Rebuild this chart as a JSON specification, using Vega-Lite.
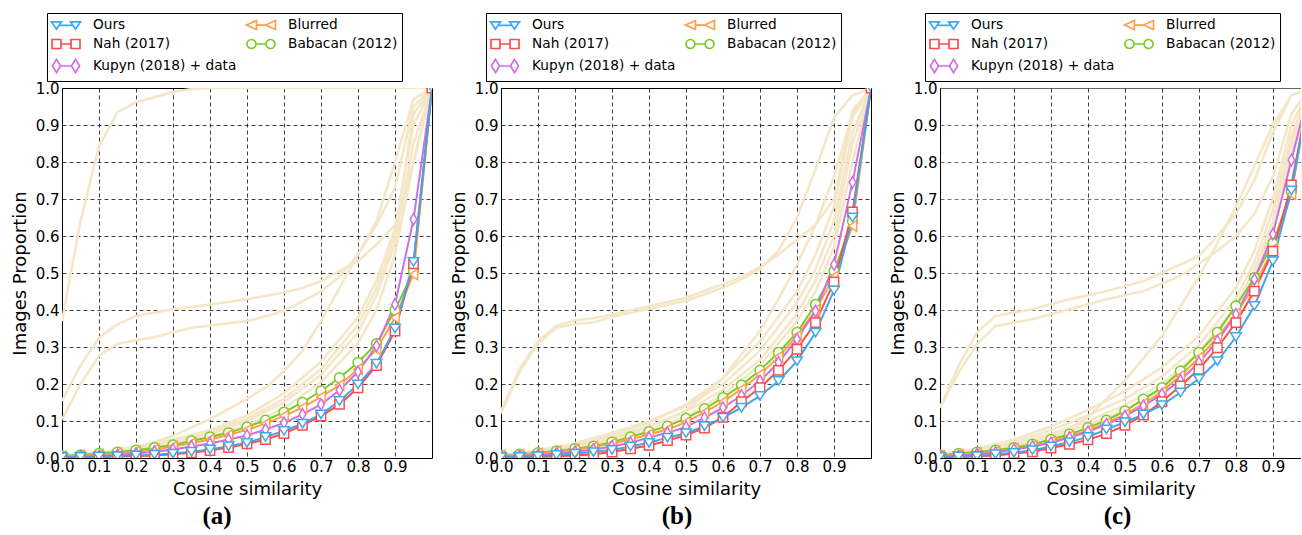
{
"$schema": "https://vega.github.io/schema/vega-lite/v6.json",
"padding": {"left": 10, "top": 12, "right": 0, "bottom": 0},
"spacing": 69,
"bounds": "flush",
"config": {
  "font": "DejaVu Sans",
  "view": {"stroke": "black", "strokeWidth": 1},
  "axis": {"labelFont": "DejaVu Sans", "labelFontSize": 15, "labelColor": "black", "titleFont": "DejaVu Sans", "titleFontSize": 18, "titleFontWeight": "normal", "titleColor": "black", "grid": true, "gridColor": "black", "gridDash": [4, 3], "gridOpacity": 0.75, "gridWidth": 1, "ticks": false, "domain": false, "labelFlush": false, "labelOverlap": false},
  "legend": {"orient": "none", "legendX": -15, "legendY": -75, "columns": 2, "strokeColor": "black", "fillColor": "white", "padding": 4, "cornerRadius": 0, "labelFont": "DejaVu Sans", "labelFontSize": 13.7, "labelColor": "black", "labelLimit": 300, "symbolSize": 196, "symbolStrokeWidth": 1.7, "symbolOpacity": 1, "symbolOffset": 7, "rowPadding": 3, "columnPadding": 6, "labelOffset": 19},
  "title": {"font": "Liberation Serif", "fontSize": 25, "fontWeight": "bold", "color": "black", "orient": "bottom", "anchor": "middle", "frame": "group", "offset": 6}
},
"resolve": {"scale": {"color": "independent", "shape": "independent", "stroke": "independent"}, "legend": {"color": "independent", "shape": "independent", "stroke": "independent"}},
"datasets": {
"main": [
{"p":"a","m":"Babacan (2012)","x":0,"y":0.006},{"p":"a","m":"Babacan (2012)","x":0.05,"y":0.008},{"p":"a","m":"Babacan (2012)","x":0.1,"y":0.012},{"p":"a","m":"Babacan (2012)","x":0.15,"y":0.016},{"p":"a","m":"Babacan (2012)","x":0.2,"y":0.021},{"p":"a","m":"Babacan (2012)","x":0.25,"y":0.028},{"p":"a","m":"Babacan (2012)","x":0.3,"y":0.035},{"p":"a","m":"Babacan (2012)","x":0.35,"y":0.046},{"p":"a","m":"Babacan (2012)","x":0.4,"y":0.057},{"p":"a","m":"Babacan (2012)","x":0.45,"y":0.068},{"p":"a","m":"Babacan (2012)","x":0.5,"y":0.084},{"p":"a","m":"Babacan (2012)","x":0.55,"y":0.102},{"p":"a","m":"Babacan (2012)","x":0.6,"y":0.124},{"p":"a","m":"Babacan (2012)","x":0.65,"y":0.15},{"p":"a","m":"Babacan (2012)","x":0.7,"y":0.181},{"p":"a","m":"Babacan (2012)","x":0.75,"y":0.217},{"p":"a","m":"Babacan (2012)","x":0.8,"y":0.258},{"p":"a","m":"Babacan (2012)","x":0.85,"y":0.309},{"p":"a","m":"Babacan (2012)","x":0.9,"y":0.4},{"p":"a","m":"Babacan (2012)","x":0.95,"y":0.505},{"p":"a","m":"Babacan (2012)","x":1,"y":1},
{"p":"a","m":"Blurred","x":0,"y":0.004},{"p":"a","m":"Blurred","x":0.05,"y":0.006},{"p":"a","m":"Blurred","x":0.1,"y":0.009},{"p":"a","m":"Blurred","x":0.15,"y":0.013},{"p":"a","m":"Blurred","x":0.2,"y":0.017},{"p":"a","m":"Blurred","x":0.25,"y":0.023},{"p":"a","m":"Blurred","x":0.3,"y":0.031},{"p":"a","m":"Blurred","x":0.35,"y":0.04},{"p":"a","m":"Blurred","x":0.4,"y":0.05},{"p":"a","m":"Blurred","x":0.45,"y":0.062},{"p":"a","m":"Blurred","x":0.5,"y":0.076},{"p":"a","m":"Blurred","x":0.55,"y":0.093},{"p":"a","m":"Blurred","x":0.6,"y":0.114},{"p":"a","m":"Blurred","x":0.65,"y":0.136},{"p":"a","m":"Blurred","x":0.7,"y":0.165},{"p":"a","m":"Blurred","x":0.75,"y":0.197},{"p":"a","m":"Blurred","x":0.8,"y":0.24},{"p":"a","m":"Blurred","x":0.85,"y":0.294},{"p":"a","m":"Blurred","x":0.9,"y":0.379},{"p":"a","m":"Blurred","x":0.95,"y":0.496},{"p":"a","m":"Blurred","x":1,"y":1},
{"p":"a","m":"Kupyn (2018) + data","x":0,"y":0.003},{"p":"a","m":"Kupyn (2018) + data","x":0.05,"y":0.004},{"p":"a","m":"Kupyn (2018) + data","x":0.1,"y":0.005},{"p":"a","m":"Kupyn (2018) + data","x":0.15,"y":0.008},{"p":"a","m":"Kupyn (2018) + data","x":0.2,"y":0.012},{"p":"a","m":"Kupyn (2018) + data","x":0.25,"y":0.017},{"p":"a","m":"Kupyn (2018) + data","x":0.3,"y":0.023},{"p":"a","m":"Kupyn (2018) + data","x":0.35,"y":0.031},{"p":"a","m":"Kupyn (2018) + data","x":0.4,"y":0.039},{"p":"a","m":"Kupyn (2018) + data","x":0.45,"y":0.05},{"p":"a","m":"Kupyn (2018) + data","x":0.5,"y":0.061},{"p":"a","m":"Kupyn (2018) + data","x":0.55,"y":0.077},{"p":"a","m":"Kupyn (2018) + data","x":0.6,"y":0.095},{"p":"a","m":"Kupyn (2018) + data","x":0.65,"y":0.118},{"p":"a","m":"Kupyn (2018) + data","x":0.7,"y":0.145},{"p":"a","m":"Kupyn (2018) + data","x":0.75,"y":0.183},{"p":"a","m":"Kupyn (2018) + data","x":0.8,"y":0.233},{"p":"a","m":"Kupyn (2018) + data","x":0.85,"y":0.303},{"p":"a","m":"Kupyn (2018) + data","x":0.9,"y":0.415},{"p":"a","m":"Kupyn (2018) + data","x":0.95,"y":0.645},{"p":"a","m":"Kupyn (2018) + data","x":1,"y":1},
{"p":"a","m":"Nah (2017)","x":0,"y":0.001},{"p":"a","m":"Nah (2017)","x":0.05,"y":0.002},{"p":"a","m":"Nah (2017)","x":0.1,"y":0.003},{"p":"a","m":"Nah (2017)","x":0.15,"y":0.004},{"p":"a","m":"Nah (2017)","x":0.2,"y":0.005},{"p":"a","m":"Nah (2017)","x":0.25,"y":0.007},{"p":"a","m":"Nah (2017)","x":0.3,"y":0.01},{"p":"a","m":"Nah (2017)","x":0.35,"y":0.014},{"p":"a","m":"Nah (2017)","x":0.4,"y":0.02},{"p":"a","m":"Nah (2017)","x":0.45,"y":0.028},{"p":"a","m":"Nah (2017)","x":0.5,"y":0.038},{"p":"a","m":"Nah (2017)","x":0.55,"y":0.05},{"p":"a","m":"Nah (2017)","x":0.6,"y":0.066},{"p":"a","m":"Nah (2017)","x":0.65,"y":0.088},{"p":"a","m":"Nah (2017)","x":0.7,"y":0.113},{"p":"a","m":"Nah (2017)","x":0.75,"y":0.145},{"p":"a","m":"Nah (2017)","x":0.8,"y":0.19},{"p":"a","m":"Nah (2017)","x":0.85,"y":0.25},{"p":"a","m":"Nah (2017)","x":0.9,"y":0.343},{"p":"a","m":"Nah (2017)","x":0.95,"y":0.525},{"p":"a","m":"Nah (2017)","x":1,"y":1},
{"p":"a","m":"Ours","x":0,"y":0.002},{"p":"a","m":"Ours","x":0.05,"y":0.003},{"p":"a","m":"Ours","x":0.1,"y":0.004},{"p":"a","m":"Ours","x":0.15,"y":0.005},{"p":"a","m":"Ours","x":0.2,"y":0.007},{"p":"a","m":"Ours","x":0.25,"y":0.009},{"p":"a","m":"Ours","x":0.3,"y":0.012},{"p":"a","m":"Ours","x":0.35,"y":0.017},{"p":"a","m":"Ours","x":0.4,"y":0.023},{"p":"a","m":"Ours","x":0.45,"y":0.032},{"p":"a","m":"Ours","x":0.5,"y":0.041},{"p":"a","m":"Ours","x":0.55,"y":0.057},{"p":"a","m":"Ours","x":0.6,"y":0.073},{"p":"a","m":"Ours","x":0.65,"y":0.093},{"p":"a","m":"Ours","x":0.7,"y":0.118},{"p":"a","m":"Ours","x":0.75,"y":0.154},{"p":"a","m":"Ours","x":0.8,"y":0.199},{"p":"a","m":"Ours","x":0.85,"y":0.255},{"p":"a","m":"Ours","x":0.9,"y":0.35},{"p":"a","m":"Ours","x":0.95,"y":0.53},{"p":"a","m":"Ours","x":1,"y":1},
{"p":"b","m":"Babacan (2012)","x":0,"y":0.007},{"p":"b","m":"Babacan (2012)","x":0.05,"y":0.01},{"p":"b","m":"Babacan (2012)","x":0.1,"y":0.014},{"p":"b","m":"Babacan (2012)","x":0.15,"y":0.019},{"p":"b","m":"Babacan (2012)","x":0.2,"y":0.025},{"p":"b","m":"Babacan (2012)","x":0.25,"y":0.032},{"p":"b","m":"Babacan (2012)","x":0.3,"y":0.043},{"p":"b","m":"Babacan (2012)","x":0.35,"y":0.057},{"p":"b","m":"Babacan (2012)","x":0.4,"y":0.071},{"p":"b","m":"Babacan (2012)","x":0.45,"y":0.086},{"p":"b","m":"Babacan (2012)","x":0.5,"y":0.107},{"p":"b","m":"Babacan (2012)","x":0.55,"y":0.133},{"p":"b","m":"Babacan (2012)","x":0.6,"y":0.163},{"p":"b","m":"Babacan (2012)","x":0.65,"y":0.197},{"p":"b","m":"Babacan (2012)","x":0.7,"y":0.237},{"p":"b","m":"Babacan (2012)","x":0.75,"y":0.285},{"p":"b","m":"Babacan (2012)","x":0.8,"y":0.339},{"p":"b","m":"Babacan (2012)","x":0.85,"y":0.415},{"p":"b","m":"Babacan (2012)","x":0.9,"y":0.505},{"p":"b","m":"Babacan (2012)","x":0.95,"y":0.64},{"p":"b","m":"Babacan (2012)","x":1,"y":1},
{"p":"b","m":"Blurred","x":0,"y":0.006},{"p":"b","m":"Blurred","x":0.05,"y":0.009},{"p":"b","m":"Blurred","x":0.1,"y":0.012},{"p":"b","m":"Blurred","x":0.15,"y":0.017},{"p":"b","m":"Blurred","x":0.2,"y":0.022},{"p":"b","m":"Blurred","x":0.25,"y":0.03},{"p":"b","m":"Blurred","x":0.3,"y":0.039},{"p":"b","m":"Blurred","x":0.35,"y":0.05},{"p":"b","m":"Blurred","x":0.4,"y":0.064},{"p":"b","m":"Blurred","x":0.45,"y":0.077},{"p":"b","m":"Blurred","x":0.5,"y":0.097},{"p":"b","m":"Blurred","x":0.55,"y":0.123},{"p":"b","m":"Blurred","x":0.6,"y":0.152},{"p":"b","m":"Blurred","x":0.65,"y":0.186},{"p":"b","m":"Blurred","x":0.7,"y":0.226},{"p":"b","m":"Blurred","x":0.75,"y":0.273},{"p":"b","m":"Blurred","x":0.8,"y":0.33},{"p":"b","m":"Blurred","x":0.85,"y":0.4},{"p":"b","m":"Blurred","x":0.9,"y":0.49},{"p":"b","m":"Blurred","x":0.95,"y":0.627},{"p":"b","m":"Blurred","x":1,"y":1},
{"p":"b","m":"Kupyn (2018) + data","x":0,"y":0.003},{"p":"b","m":"Kupyn (2018) + data","x":0.05,"y":0.005},{"p":"b","m":"Kupyn (2018) + data","x":0.1,"y":0.008},{"p":"b","m":"Kupyn (2018) + data","x":0.15,"y":0.012},{"p":"b","m":"Kupyn (2018) + data","x":0.2,"y":0.017},{"p":"b","m":"Kupyn (2018) + data","x":0.25,"y":0.023},{"p":"b","m":"Kupyn (2018) + data","x":0.3,"y":0.031},{"p":"b","m":"Kupyn (2018) + data","x":0.35,"y":0.041},{"p":"b","m":"Kupyn (2018) + data","x":0.4,"y":0.055},{"p":"b","m":"Kupyn (2018) + data","x":0.45,"y":0.068},{"p":"b","m":"Kupyn (2018) + data","x":0.5,"y":0.084},{"p":"b","m":"Kupyn (2018) + data","x":0.55,"y":0.109},{"p":"b","m":"Kupyn (2018) + data","x":0.6,"y":0.136},{"p":"b","m":"Kupyn (2018) + data","x":0.65,"y":0.169},{"p":"b","m":"Kupyn (2018) + data","x":0.7,"y":0.208},{"p":"b","m":"Kupyn (2018) + data","x":0.75,"y":0.258},{"p":"b","m":"Kupyn (2018) + data","x":0.8,"y":0.321},{"p":"b","m":"Kupyn (2018) + data","x":0.85,"y":0.397},{"p":"b","m":"Kupyn (2018) + data","x":0.9,"y":0.523},{"p":"b","m":"Kupyn (2018) + data","x":0.95,"y":0.745},{"p":"b","m":"Kupyn (2018) + data","x":1,"y":1},
{"p":"b","m":"Nah (2017)","x":0,"y":0.001},{"p":"b","m":"Nah (2017)","x":0.05,"y":0.002},{"p":"b","m":"Nah (2017)","x":0.1,"y":0.003},{"p":"b","m":"Nah (2017)","x":0.15,"y":0.005},{"p":"b","m":"Nah (2017)","x":0.2,"y":0.007},{"p":"b","m":"Nah (2017)","x":0.25,"y":0.01},{"p":"b","m":"Nah (2017)","x":0.3,"y":0.016},{"p":"b","m":"Nah (2017)","x":0.35,"y":0.025},{"p":"b","m":"Nah (2017)","x":0.4,"y":0.034},{"p":"b","m":"Nah (2017)","x":0.45,"y":0.047},{"p":"b","m":"Nah (2017)","x":0.5,"y":0.062},{"p":"b","m":"Nah (2017)","x":0.55,"y":0.081},{"p":"b","m":"Nah (2017)","x":0.6,"y":0.11},{"p":"b","m":"Nah (2017)","x":0.65,"y":0.152},{"p":"b","m":"Nah (2017)","x":0.7,"y":0.19},{"p":"b","m":"Nah (2017)","x":0.75,"y":0.237},{"p":"b","m":"Nah (2017)","x":0.8,"y":0.294},{"p":"b","m":"Nah (2017)","x":0.85,"y":0.366},{"p":"b","m":"Nah (2017)","x":0.9,"y":0.476},{"p":"b","m":"Nah (2017)","x":0.95,"y":0.665},{"p":"b","m":"Nah (2017)","x":1,"y":1},
{"p":"b","m":"Ours","x":0,"y":0.002},{"p":"b","m":"Ours","x":0.05,"y":0.003},{"p":"b","m":"Ours","x":0.1,"y":0.005},{"p":"b","m":"Ours","x":0.15,"y":0.008},{"p":"b","m":"Ours","x":0.2,"y":0.012},{"p":"b","m":"Ours","x":0.25,"y":0.016},{"p":"b","m":"Ours","x":0.3,"y":0.022},{"p":"b","m":"Ours","x":0.35,"y":0.031},{"p":"b","m":"Ours","x":0.4,"y":0.041},{"p":"b","m":"Ours","x":0.45,"y":0.055},{"p":"b","m":"Ours","x":0.5,"y":0.067},{"p":"b","m":"Ours","x":0.55,"y":0.086},{"p":"b","m":"Ours","x":0.6,"y":0.109},{"p":"b","m":"Ours","x":0.65,"y":0.136},{"p":"b","m":"Ours","x":0.7,"y":0.168},{"p":"b","m":"Ours","x":0.75,"y":0.208},{"p":"b","m":"Ours","x":0.8,"y":0.262},{"p":"b","m":"Ours","x":0.85,"y":0.339},{"p":"b","m":"Ours","x":0.9,"y":0.453},{"p":"b","m":"Ours","x":0.95,"y":0.65},{"p":"b","m":"Ours","x":1,"y":1},
{"p":"c","m":"Babacan (2012)","x":0,"y":0.008},{"p":"c","m":"Babacan (2012)","x":0.05,"y":0.012},{"p":"c","m":"Babacan (2012)","x":0.1,"y":0.016},{"p":"c","m":"Babacan (2012)","x":0.15,"y":0.021},{"p":"c","m":"Babacan (2012)","x":0.2,"y":0.028},{"p":"c","m":"Babacan (2012)","x":0.25,"y":0.037},{"p":"c","m":"Babacan (2012)","x":0.3,"y":0.05},{"p":"c","m":"Babacan (2012)","x":0.35,"y":0.064},{"p":"c","m":"Babacan (2012)","x":0.4,"y":0.082},{"p":"c","m":"Babacan (2012)","x":0.45,"y":0.102},{"p":"c","m":"Babacan (2012)","x":0.5,"y":0.127},{"p":"c","m":"Babacan (2012)","x":0.55,"y":0.159},{"p":"c","m":"Babacan (2012)","x":0.6,"y":0.19},{"p":"c","m":"Babacan (2012)","x":0.65,"y":0.235},{"p":"c","m":"Babacan (2012)","x":0.7,"y":0.285},{"p":"c","m":"Babacan (2012)","x":0.75,"y":0.339},{"p":"c","m":"Babacan (2012)","x":0.8,"y":0.411},{"p":"c","m":"Babacan (2012)","x":0.85,"y":0.487},{"p":"c","m":"Babacan (2012)","x":0.9,"y":0.58},{"p":"c","m":"Babacan (2012)","x":0.95,"y":0.72},{"p":"c","m":"Babacan (2012)","x":1,"y":1},
{"p":"c","m":"Blurred","x":0,"y":0.006},{"p":"c","m":"Blurred","x":0.05,"y":0.009},{"p":"c","m":"Blurred","x":0.1,"y":0.013},{"p":"c","m":"Blurred","x":0.15,"y":0.018},{"p":"c","m":"Blurred","x":0.2,"y":0.024},{"p":"c","m":"Blurred","x":0.25,"y":0.032},{"p":"c","m":"Blurred","x":0.3,"y":0.044},{"p":"c","m":"Blurred","x":0.35,"y":0.059},{"p":"c","m":"Blurred","x":0.4,"y":0.075},{"p":"c","m":"Blurred","x":0.45,"y":0.095},{"p":"c","m":"Blurred","x":0.5,"y":0.118},{"p":"c","m":"Blurred","x":0.55,"y":0.147},{"p":"c","m":"Blurred","x":0.6,"y":0.179},{"p":"c","m":"Blurred","x":0.65,"y":0.222},{"p":"c","m":"Blurred","x":0.7,"y":0.271},{"p":"c","m":"Blurred","x":0.75,"y":0.325},{"p":"c","m":"Blurred","x":0.8,"y":0.39},{"p":"c","m":"Blurred","x":0.85,"y":0.465},{"p":"c","m":"Blurred","x":0.9,"y":0.565},{"p":"c","m":"Blurred","x":0.95,"y":0.713},{"p":"c","m":"Blurred","x":1,"y":1},
{"p":"c","m":"Kupyn (2018) + data","x":0,"y":0.004},{"p":"c","m":"Kupyn (2018) + data","x":0.05,"y":0.006},{"p":"c","m":"Kupyn (2018) + data","x":0.1,"y":0.01},{"p":"c","m":"Kupyn (2018) + data","x":0.15,"y":0.015},{"p":"c","m":"Kupyn (2018) + data","x":0.2,"y":0.023},{"p":"c","m":"Kupyn (2018) + data","x":0.25,"y":0.031},{"p":"c","m":"Kupyn (2018) + data","x":0.3,"y":0.041},{"p":"c","m":"Kupyn (2018) + data","x":0.35,"y":0.055},{"p":"c","m":"Kupyn (2018) + data","x":0.4,"y":0.071},{"p":"c","m":"Kupyn (2018) + data","x":0.45,"y":0.091},{"p":"c","m":"Kupyn (2018) + data","x":0.5,"y":0.113},{"p":"c","m":"Kupyn (2018) + data","x":0.55,"y":0.141},{"p":"c","m":"Kupyn (2018) + data","x":0.6,"y":0.172},{"p":"c","m":"Kupyn (2018) + data","x":0.65,"y":0.21},{"p":"c","m":"Kupyn (2018) + data","x":0.7,"y":0.258},{"p":"c","m":"Kupyn (2018) + data","x":0.75,"y":0.316},{"p":"c","m":"Kupyn (2018) + data","x":0.8,"y":0.388},{"p":"c","m":"Kupyn (2018) + data","x":0.85,"y":0.483},{"p":"c","m":"Kupyn (2018) + data","x":0.9,"y":0.605},{"p":"c","m":"Kupyn (2018) + data","x":0.95,"y":0.805},{"p":"c","m":"Kupyn (2018) + data","x":1,"y":1},
{"p":"c","m":"Nah (2017)","x":0,"y":0.002},{"p":"c","m":"Nah (2017)","x":0.05,"y":0.003},{"p":"c","m":"Nah (2017)","x":0.1,"y":0.005},{"p":"c","m":"Nah (2017)","x":0.15,"y":0.007},{"p":"c","m":"Nah (2017)","x":0.2,"y":0.012},{"p":"c","m":"Nah (2017)","x":0.25,"y":0.017},{"p":"c","m":"Nah (2017)","x":0.3,"y":0.027},{"p":"c","m":"Nah (2017)","x":0.35,"y":0.037},{"p":"c","m":"Nah (2017)","x":0.4,"y":0.049},{"p":"c","m":"Nah (2017)","x":0.45,"y":0.066},{"p":"c","m":"Nah (2017)","x":0.5,"y":0.088},{"p":"c","m":"Nah (2017)","x":0.55,"y":0.116},{"p":"c","m":"Nah (2017)","x":0.6,"y":0.152},{"p":"c","m":"Nah (2017)","x":0.65,"y":0.195},{"p":"c","m":"Nah (2017)","x":0.7,"y":0.24},{"p":"c","m":"Nah (2017)","x":0.75,"y":0.298},{"p":"c","m":"Nah (2017)","x":0.8,"y":0.366},{"p":"c","m":"Nah (2017)","x":0.85,"y":0.451},{"p":"c","m":"Nah (2017)","x":0.9,"y":0.559},{"p":"c","m":"Nah (2017)","x":0.95,"y":0.738},{"p":"c","m":"Nah (2017)","x":1,"y":1},
{"p":"c","m":"Ours","x":0,"y":0.003},{"p":"c","m":"Ours","x":0.05,"y":0.004},{"p":"c","m":"Ours","x":0.1,"y":0.005},{"p":"c","m":"Ours","x":0.15,"y":0.01},{"p":"c","m":"Ours","x":0.2,"y":0.014},{"p":"c","m":"Ours","x":0.25,"y":0.021},{"p":"c","m":"Ours","x":0.3,"y":0.031},{"p":"c","m":"Ours","x":0.35,"y":0.043},{"p":"c","m":"Ours","x":0.4,"y":0.057},{"p":"c","m":"Ours","x":0.45,"y":0.077},{"p":"c","m":"Ours","x":0.5,"y":0.097},{"p":"c","m":"Ours","x":0.55,"y":0.118},{"p":"c","m":"Ours","x":0.6,"y":0.143},{"p":"c","m":"Ours","x":0.65,"y":0.177},{"p":"c","m":"Ours","x":0.7,"y":0.214},{"p":"c","m":"Ours","x":0.75,"y":0.262},{"p":"c","m":"Ours","x":0.8,"y":0.327},{"p":"c","m":"Ours","x":0.85,"y":0.411},{"p":"c","m":"Ours","x":0.9,"y":0.532},{"p":"c","m":"Ours","x":0.95,"y":0.723},{"p":"c","m":"Ours","x":1,"y":1}
],
"bg": [
{"p":"a","c":"a1","x":0,"y":0.37},{"p":"a","c":"a1","x":0.05,"y":0.64},{"p":"a","c":"a1","x":0.1,"y":0.843},{"p":"a","c":"a1","x":0.15,"y":0.935},{"p":"a","c":"a1","x":0.2,"y":0.962},{"p":"a","c":"a1","x":0.25,"y":0.975},{"p":"a","c":"a1","x":0.3,"y":0.99},{"p":"a","c":"a1","x":0.35,"y":0.997},{"p":"a","c":"a1","x":0.4,"y":1},{"p":"a","c":"a1","x":1,"y":1},
{"p":"a","c":"a2","x":0,"y":0.154},{"p":"a","c":"a2","x":0.05,"y":0.25},{"p":"a","c":"a2","x":0.1,"y":0.325},{"p":"a","c":"a2","x":0.15,"y":0.361},{"p":"a","c":"a2","x":0.2,"y":0.384},{"p":"a","c":"a2","x":0.3,"y":0.402},{"p":"a","c":"a2","x":0.4,"y":0.415},{"p":"a","c":"a2","x":0.5,"y":0.429},{"p":"a","c":"a2","x":0.6,"y":0.447},{"p":"a","c":"a2","x":0.65,"y":0.46},{"p":"a","c":"a2","x":0.7,"y":0.478},{"p":"a","c":"a2","x":0.75,"y":0.505},{"p":"a","c":"a2","x":0.8,"y":0.532},{"p":"a","c":"a2","x":0.85,"y":0.577},{"p":"a","c":"a2","x":0.9,"y":0.63},{"p":"a","c":"a2","x":0.95,"y":0.8},{"p":"a","c":"a2","x":1,"y":1},
{"p":"a","c":"a3","x":0,"y":0.104},{"p":"a","c":"a3","x":0.05,"y":0.2},{"p":"a","c":"a3","x":0.1,"y":0.276},{"p":"a","c":"a3","x":0.15,"y":0.309},{"p":"a","c":"a3","x":0.25,"y":0.327},{"p":"a","c":"a3","x":0.35,"y":0.352},{"p":"a","c":"a3","x":0.5,"y":0.37},{"p":"a","c":"a3","x":0.57,"y":0.388},{"p":"a","c":"a3","x":0.62,"y":0.408},{"p":"a","c":"a3","x":0.7,"y":0.45},{"p":"a","c":"a3","x":0.75,"y":0.49},{"p":"a","c":"a3","x":0.8,"y":0.55},{"p":"a","c":"a3","x":0.85,"y":0.63},{"p":"a","c":"a3","x":0.9,"y":0.73},{"p":"a","c":"a3","x":0.95,"y":0.95},{"p":"a","c":"a3","x":1,"y":1},
{"p":"a","c":"a4","x":0,"y":0},{"p":"a","c":"a4","x":0.1,"y":0.006},{"p":"a","c":"a4","x":0.2,"y":0.028},{"p":"a","c":"a4","x":0.3,"y":0.06},{"p":"a","c":"a4","x":0.4,"y":0.105},{"p":"a","c":"a4","x":0.5,"y":0.16},{"p":"a","c":"a4","x":0.55,"y":0.19},{"p":"a","c":"a4","x":0.6,"y":0.235},{"p":"a","c":"a4","x":0.65,"y":0.29},{"p":"a","c":"a4","x":0.7,"y":0.37},{"p":"a","c":"a4","x":0.75,"y":0.46},{"p":"a","c":"a4","x":0.8,"y":0.55},{"p":"a","c":"a4","x":0.85,"y":0.64},{"p":"a","c":"a4","x":0.9,"y":0.8},{"p":"a","c":"a4","x":0.95,"y":0.97},{"p":"a","c":"a4","x":1,"y":1},
{"p":"a","c":"a5","x":0,"y":0.008},{"p":"a","c":"a5","x":0.1,"y":0.015},{"p":"a","c":"a5","x":0.2,"y":0.03},{"p":"a","c":"a5","x":0.3,"y":0.05},{"p":"a","c":"a5","x":0.4,"y":0.075},{"p":"a","c":"a5","x":0.5,"y":0.115},{"p":"a","c":"a5","x":0.6,"y":0.175},{"p":"a","c":"a5","x":0.7,"y":0.26},{"p":"a","c":"a5","x":0.8,"y":0.38},{"p":"a","c":"a5","x":0.85,"y":0.48},{"p":"a","c":"a5","x":0.9,"y":0.62},{"p":"a","c":"a5","x":0.95,"y":0.9},{"p":"a","c":"a5","x":1,"y":1},
{"p":"a","c":"a6","x":0,"y":0.006},{"p":"a","c":"a6","x":0.1,"y":0.012},{"p":"a","c":"a6","x":0.2,"y":0.025},{"p":"a","c":"a6","x":0.3,"y":0.042},{"p":"a","c":"a6","x":0.4,"y":0.065},{"p":"a","c":"a6","x":0.5,"y":0.1},{"p":"a","c":"a6","x":0.6,"y":0.15},{"p":"a","c":"a6","x":0.7,"y":0.225},{"p":"a","c":"a6","x":0.8,"y":0.34},{"p":"a","c":"a6","x":0.85,"y":0.44},{"p":"a","c":"a6","x":0.9,"y":0.58},{"p":"a","c":"a6","x":0.95,"y":0.85},{"p":"a","c":"a6","x":1,"y":1},
{"p":"a","c":"a7","x":0,"y":0.005},{"p":"a","c":"a7","x":0.1,"y":0.01},{"p":"a","c":"a7","x":0.2,"y":0.02},{"p":"a","c":"a7","x":0.3,"y":0.036},{"p":"a","c":"a7","x":0.4,"y":0.057},{"p":"a","c":"a7","x":0.5,"y":0.088},{"p":"a","c":"a7","x":0.6,"y":0.135},{"p":"a","c":"a7","x":0.7,"y":0.205},{"p":"a","c":"a7","x":0.8,"y":0.31},{"p":"a","c":"a7","x":0.85,"y":0.4},{"p":"a","c":"a7","x":0.9,"y":0.55},{"p":"a","c":"a7","x":0.95,"y":0.8},{"p":"a","c":"a7","x":1,"y":1},
{"p":"a","c":"a8","x":0,"y":0.007},{"p":"a","c":"a8","x":0.1,"y":0.014},{"p":"a","c":"a8","x":0.2,"y":0.028},{"p":"a","c":"a8","x":0.3,"y":0.047},{"p":"a","c":"a8","x":0.4,"y":0.07},{"p":"a","c":"a8","x":0.5,"y":0.106},{"p":"a","c":"a8","x":0.6,"y":0.16},{"p":"a","c":"a8","x":0.7,"y":0.24},{"p":"a","c":"a8","x":0.8,"y":0.36},{"p":"a","c":"a8","x":0.85,"y":0.46},{"p":"a","c":"a8","x":0.9,"y":0.6},{"p":"a","c":"a8","x":0.95,"y":0.93},{"p":"a","c":"a8","x":1,"y":1},
{"p":"b","c":"b1","x":0,"y":0.127},{"p":"b","c":"b1","x":0.05,"y":0.24},{"p":"b","c":"b1","x":0.1,"y":0.316},{"p":"b","c":"b1","x":0.15,"y":0.357},{"p":"b","c":"b1","x":0.2,"y":0.372},{"p":"b","c":"b1","x":0.25,"y":0.378},{"p":"b","c":"b1","x":0.3,"y":0.388},{"p":"b","c":"b1","x":0.4,"y":0.41},{"p":"b","c":"b1","x":0.5,"y":0.433},{"p":"b","c":"b1","x":0.6,"y":0.47},{"p":"b","c":"b1","x":0.65,"y":0.49},{"p":"b","c":"b1","x":0.7,"y":0.515},{"p":"b","c":"b1","x":0.75,"y":0.55},{"p":"b","c":"b1","x":0.8,"y":0.59},{"p":"b","c":"b1","x":0.85,"y":0.63},{"p":"b","c":"b1","x":0.9,"y":0.7},{"p":"b","c":"b1","x":0.95,"y":0.94},{"p":"b","c":"b1","x":1,"y":1},
{"p":"b","c":"b2","x":0,"y":0.12},{"p":"b","c":"b2","x":0.05,"y":0.232},{"p":"b","c":"b2","x":0.1,"y":0.31},{"p":"b","c":"b2","x":0.15,"y":0.352},{"p":"b","c":"b2","x":0.2,"y":0.362},{"p":"b","c":"b2","x":0.25,"y":0.366},{"p":"b","c":"b2","x":0.3,"y":0.382},{"p":"b","c":"b2","x":0.4,"y":0.403},{"p":"b","c":"b2","x":0.5,"y":0.425},{"p":"b","c":"b2","x":0.6,"y":0.46},{"p":"b","c":"b2","x":0.65,"y":0.483},{"p":"b","c":"b2","x":0.7,"y":0.51},{"p":"b","c":"b2","x":0.75,"y":0.56},{"p":"b","c":"b2","x":0.8,"y":0.65},{"p":"b","c":"b2","x":0.85,"y":0.78},{"p":"b","c":"b2","x":0.9,"y":0.92},{"p":"b","c":"b2","x":0.95,"y":0.98},{"p":"b","c":"b2","x":1,"y":1},
{"p":"b","c":"b3","x":0,"y":0},{"p":"b","c":"b3","x":0.1,"y":0.008},{"p":"b","c":"b3","x":0.2,"y":0.025},{"p":"b","c":"b3","x":0.3,"y":0.05},{"p":"b","c":"b3","x":0.4,"y":0.085},{"p":"b","c":"b3","x":0.5,"y":0.127},{"p":"b","c":"b3","x":0.6,"y":0.217},{"p":"b","c":"b3","x":0.7,"y":0.343},{"p":"b","c":"b3","x":0.75,"y":0.43},{"p":"b","c":"b3","x":0.8,"y":0.523},{"p":"b","c":"b3","x":0.85,"y":0.63},{"p":"b","c":"b3","x":0.9,"y":0.76},{"p":"b","c":"b3","x":0.95,"y":0.93},{"p":"b","c":"b3","x":1,"y":1},
{"p":"b","c":"b4","x":0,"y":0.008},{"p":"b","c":"b4","x":0.1,"y":0.02},{"p":"b","c":"b4","x":0.2,"y":0.04},{"p":"b","c":"b4","x":0.3,"y":0.068},{"p":"b","c":"b4","x":0.4,"y":0.1},{"p":"b","c":"b4","x":0.5,"y":0.14},{"p":"b","c":"b4","x":0.6,"y":0.2},{"p":"b","c":"b4","x":0.7,"y":0.29},{"p":"b","c":"b4","x":0.8,"y":0.42},{"p":"b","c":"b4","x":0.85,"y":0.51},{"p":"b","c":"b4","x":0.9,"y":0.64},{"p":"b","c":"b4","x":0.95,"y":0.88},{"p":"b","c":"b4","x":1,"y":1},
{"p":"b","c":"b5","x":0,"y":0.006},{"p":"b","c":"b5","x":0.1,"y":0.016},{"p":"b","c":"b5","x":0.2,"y":0.033},{"p":"b","c":"b5","x":0.3,"y":0.056},{"p":"b","c":"b5","x":0.4,"y":0.085},{"p":"b","c":"b5","x":0.5,"y":0.125},{"p":"b","c":"b5","x":0.6,"y":0.185},{"p":"b","c":"b5","x":0.7,"y":0.265},{"p":"b","c":"b5","x":0.8,"y":0.39},{"p":"b","c":"b5","x":0.85,"y":0.48},{"p":"b","c":"b5","x":0.9,"y":0.6},{"p":"b","c":"b5","x":0.95,"y":0.85},{"p":"b","c":"b5","x":1,"y":1},
{"p":"b","c":"b6","x":0,"y":0.006},{"p":"b","c":"b6","x":0.1,"y":0.013},{"p":"b","c":"b6","x":0.2,"y":0.028},{"p":"b","c":"b6","x":0.3,"y":0.048},{"p":"b","c":"b6","x":0.4,"y":0.075},{"p":"b","c":"b6","x":0.5,"y":0.112},{"p":"b","c":"b6","x":0.6,"y":0.172},{"p":"b","c":"b6","x":0.7,"y":0.25},{"p":"b","c":"b6","x":0.8,"y":0.37},{"p":"b","c":"b6","x":0.85,"y":0.45},{"p":"b","c":"b6","x":0.9,"y":0.57},{"p":"b","c":"b6","x":0.95,"y":0.8},{"p":"b","c":"b6","x":1,"y":1},
{"p":"b","c":"b7","x":0,"y":0.007},{"p":"b","c":"b7","x":0.1,"y":0.018},{"p":"b","c":"b7","x":0.2,"y":0.037},{"p":"b","c":"b7","x":0.3,"y":0.062},{"p":"b","c":"b7","x":0.4,"y":0.095},{"p":"b","c":"b7","x":0.5,"y":0.145},{"p":"b","c":"b7","x":0.6,"y":0.215},{"p":"b","c":"b7","x":0.7,"y":0.315},{"p":"b","c":"b7","x":0.8,"y":0.45},{"p":"b","c":"b7","x":0.85,"y":0.55},{"p":"b","c":"b7","x":0.9,"y":0.68},{"p":"b","c":"b7","x":0.95,"y":0.92},{"p":"b","c":"b7","x":1,"y":1},
{"p":"c","c":"c1","x":0,"y":0.136},{"p":"c","c":"c1","x":0.05,"y":0.249},{"p":"c","c":"c1","x":0.1,"y":0.339},{"p":"c","c":"c1","x":0.15,"y":0.384},{"p":"c","c":"c1","x":0.25,"y":0.402},{"p":"c","c":"c1","x":0.35,"y":0.429},{"p":"c","c":"c1","x":0.45,"y":0.451},{"p":"c","c":"c1","x":0.55,"y":0.478},{"p":"c","c":"c1","x":0.65,"y":0.523},{"p":"c","c":"c1","x":0.7,"y":0.546},{"p":"c","c":"c1","x":0.75,"y":0.6},{"p":"c","c":"c1","x":0.8,"y":0.66},{"p":"c","c":"c1","x":0.85,"y":0.75},{"p":"c","c":"c1","x":0.9,"y":0.88},{"p":"c","c":"c1","x":0.95,"y":0.98},{"p":"c","c":"c1","x":1,"y":1},
{"p":"c","c":"c2","x":0,"y":0.136},{"p":"c","c":"c2","x":0.05,"y":0.23},{"p":"c","c":"c2","x":0.1,"y":0.307},{"p":"c","c":"c2","x":0.15,"y":0.357},{"p":"c","c":"c2","x":0.25,"y":0.375},{"p":"c","c":"c2","x":0.35,"y":0.402},{"p":"c","c":"c2","x":0.45,"y":0.429},{"p":"c","c":"c2","x":0.55,"y":0.451},{"p":"c","c":"c2","x":0.65,"y":0.492},{"p":"c","c":"c2","x":0.7,"y":0.525},{"p":"c","c":"c2","x":0.75,"y":0.56},{"p":"c","c":"c2","x":0.8,"y":0.6},{"p":"c","c":"c2","x":0.85,"y":0.66},{"p":"c","c":"c2","x":0.9,"y":0.76},{"p":"c","c":"c2","x":0.95,"y":0.93},{"p":"c","c":"c2","x":1,"y":1},
{"p":"c","c":"c3","x":0,"y":0},{"p":"c","c":"c3","x":0.1,"y":0.008},{"p":"c","c":"c3","x":0.2,"y":0.025},{"p":"c","c":"c3","x":0.3,"y":0.05},{"p":"c","c":"c3","x":0.4,"y":0.11},{"p":"c","c":"c3","x":0.5,"y":0.21},{"p":"c","c":"c3","x":0.6,"y":0.33},{"p":"c","c":"c3","x":0.65,"y":0.41},{"p":"c","c":"c3","x":0.7,"y":0.49},{"p":"c","c":"c3","x":0.75,"y":0.58},{"p":"c","c":"c3","x":0.8,"y":0.68},{"p":"c","c":"c3","x":0.85,"y":0.79},{"p":"c","c":"c3","x":0.9,"y":0.9},{"p":"c","c":"c3","x":0.95,"y":0.98},{"p":"c","c":"c3","x":1,"y":1},
{"p":"c","c":"c4","x":0,"y":0.01},{"p":"c","c":"c4","x":0.1,"y":0.025},{"p":"c","c":"c4","x":0.2,"y":0.05},{"p":"c","c":"c4","x":0.3,"y":0.085},{"p":"c","c":"c4","x":0.4,"y":0.13},{"p":"c","c":"c4","x":0.5,"y":0.18},{"p":"c","c":"c4","x":0.6,"y":0.245},{"p":"c","c":"c4","x":0.7,"y":0.33},{"p":"c","c":"c4","x":0.8,"y":0.46},{"p":"c","c":"c4","x":0.85,"y":0.56},{"p":"c","c":"c4","x":0.9,"y":0.7},{"p":"c","c":"c4","x":0.95,"y":0.9},{"p":"c","c":"c4","x":1,"y":1},
{"p":"c","c":"c5","x":0,"y":0.008},{"p":"c","c":"c5","x":0.1,"y":0.02},{"p":"c","c":"c5","x":0.2,"y":0.043},{"p":"c","c":"c5","x":0.3,"y":0.075},{"p":"c","c":"c5","x":0.4,"y":0.115},{"p":"c","c":"c5","x":0.5,"y":0.16},{"p":"c","c":"c5","x":0.6,"y":0.22},{"p":"c","c":"c5","x":0.7,"y":0.305},{"p":"c","c":"c5","x":0.8,"y":0.43},{"p":"c","c":"c5","x":0.85,"y":0.53},{"p":"c","c":"c5","x":0.9,"y":0.67},{"p":"c","c":"c5","x":0.95,"y":0.87},{"p":"c","c":"c5","x":1,"y":1},
{"p":"c","c":"c6","x":0,"y":0.007},{"p":"c","c":"c6","x":0.1,"y":0.017},{"p":"c","c":"c6","x":0.2,"y":0.037},{"p":"c","c":"c6","x":0.3,"y":0.065},{"p":"c","c":"c6","x":0.4,"y":0.1},{"p":"c","c":"c6","x":0.5,"y":0.142},{"p":"c","c":"c6","x":0.6,"y":0.2},{"p":"c","c":"c6","x":0.7,"y":0.285},{"p":"c","c":"c6","x":0.8,"y":0.41},{"p":"c","c":"c6","x":0.85,"y":0.51},{"p":"c","c":"c6","x":0.9,"y":0.64},{"p":"c","c":"c6","x":0.95,"y":0.85},{"p":"c","c":"c6","x":1,"y":1},
{"p":"c","c":"c7","x":0,"y":0.006},{"p":"c","c":"c7","x":0.1,"y":0.014},{"p":"c","c":"c7","x":0.2,"y":0.032},{"p":"c","c":"c7","x":0.3,"y":0.058},{"p":"c","c":"c7","x":0.4,"y":0.09},{"p":"c","c":"c7","x":0.5,"y":0.13},{"p":"c","c":"c7","x":0.6,"y":0.185},{"p":"c","c":"c7","x":0.7,"y":0.27},{"p":"c","c":"c7","x":0.8,"y":0.39},{"p":"c","c":"c7","x":0.85,"y":0.49},{"p":"c","c":"c7","x":0.9,"y":0.62},{"p":"c","c":"c7","x":0.95,"y":0.82},{"p":"c","c":"c7","x":1,"y":1}
]
},
"hconcat": [
{
 "width": 370, "height": 370,
 "title": {"text": "(a)", "dx": -30},
 "encoding": {
  "x": {"field": "x", "type": "quantitative", "scale": {"domain": [0, 1], "nice": false}, "axis": {"title": "Cosine similarity", "values": [0,0.1,0.2,0.3,0.4,0.5,0.6,0.7,0.8,0.9], "format": ".1f", "labelPadding": 1, "titlePadding": 6}},
  "y": {"field": "y", "type": "quantitative", "scale": {"domain": [0, 1], "nice": false}, "axis": {"title": "Images Proportion", "values": [0,0.1,0.2,0.3,0.4,0.5,0.6,0.7,0.8,0.9,1], "format": ".1f", "labelPadding": 3, "titlePadding": 6}}
 },
 "layer": [
  {"data": {"name": "bg"}, "transform": [{"filter": "datum.p === 'a'"}],
   "mark": {"type": "line", "color": "#f4e6c6", "strokeWidth": 2.5, "clip": true},
   "encoding": {"detail": {"field": "c", "type": "nominal"}}},
  {"data": {"name": "main"}, "transform": [{"filter": "datum.p === 'a'"}],
   "mark": {"type": "line", "strokeWidth": 2, "clip": true},
   "encoding": {"color": {"field": "m", "type": "nominal", "scale": {"domain": ["Babacan (2012)", "Blurred", "Kupyn (2018) + data", "Nah (2017)", "Ours"], "range": ["#78cd23", "#ff9f4a", "#cf6fe6", "#ff4c4c", "#3ea8ee"]}, "legend": null}}},
  {"data": {"name": "main"}, "transform": [{"filter": "datum.p === 'a' && datum.m === 'Babacan (2012)'"}],
   "mark": {"type": "point", "shape": "M-0.9,0A0.9,0.9,0,1,0,0.9,0A0.9,0.9,0,1,0,-0.9,0Z", "filled": false, "fill": "white", "size": 121, "strokeWidth": 1.5, "opacity": 1, "clip": true},
   "encoding": {"color": {"field": "m", "type": "nominal", "legend": null}}},
  {"data": {"name": "main"}, "transform": [{"filter": "datum.p === 'a' && datum.m === 'Blurred'"}],
   "mark": {"type": "point", "shape": "M-0.76,0L0.76,-0.97L0.76,0.97Z", "filled": false, "fill": "white", "size": 121, "strokeWidth": 1.5, "opacity": 1, "clip": true},
   "encoding": {"color": {"field": "m", "type": "nominal", "legend": null}}},
  {"data": {"name": "main"}, "transform": [{"filter": "datum.p === 'a' && datum.m === 'Kupyn (2018) + data'"}],
   "mark": {"type": "point", "shape": "M0,-1.06L0.6,0L0,1.06L-0.6,0Z", "filled": false, "fill": "white", "size": 121, "strokeWidth": 1.5, "opacity": 1, "clip": true},
   "encoding": {"color": {"field": "m", "type": "nominal", "legend": null}}},
  {"data": {"name": "main"}, "transform": [{"filter": "datum.p === 'a' && datum.m === 'Nah (2017)'"}],
   "mark": {"type": "point", "shape": "M-0.85,-0.85L0.85,-0.85L0.85,0.85L-0.85,0.85Z", "filled": false, "fill": "white", "size": 121, "strokeWidth": 1.5, "opacity": 1, "clip": true},
   "encoding": {"color": {"field": "m", "type": "nominal", "legend": null}}},
  {"data": {"name": "main"}, "transform": [{"filter": "datum.p === 'a' && datum.m === 'Ours'"}],
   "mark": {"type": "point", "shape": "M-0.97,-0.76L0.97,-0.76L0,0.76Z", "filled": false, "fill": "white", "size": 121, "strokeWidth": 1.5, "opacity": 1, "clip": true},
   "encoding": {"color": {"field": "m", "type": "nominal", "legend": null}}},
  {"data": {"name": "main"}, "transform": [{"filter": "false"}],
   "mark": {"type": "point", "filled": false, "strokeWidth": 1.7},
   "encoding": {
    "stroke": {"field": "m", "type": "nominal", "scale": {"domain": ["Ours", "Nah (2017)", "Kupyn (2018) + data", "Blurred", "Babacan (2012)"], "range": ["#3ea8ee", "#ff4c4c", "#cf6fe6", "#ff9f4a", "#78cd23"]}, "legend": {"title": null}},
    "shape": {"field": "m", "type": "nominal", "scale": {"domain": ["Ours", "Nah (2017)", "Kupyn (2018) + data", "Blurred", "Babacan (2012)"], "range": ["M-2.07,-0.5L-0.65,-0.5L-1.36,0.57ZM0.65,-0.5L2.07,-0.5L1.36,0.57ZM-0.98,0L0.98,0", "M-2,-0.64L-0.72,-0.64L-0.72,0.64L-2,0.64ZM0.72,-0.64L2,-0.64L2,0.64L0.72,0.64ZM-0.72,0L0.72,0", "M-1.36,-0.95L-0.78,0L-1.36,0.95L-1.94,0ZM1.36,-0.95L1.94,0L1.36,0.95L0.78,0ZM-0.78,0L0.78,0", "M-2.07,0L-0.65,-0.64L-0.65,0.64ZM0.65,0L2.07,-0.64L2.07,0.64ZM-0.65,0L0.65,0", "M-2,0A0.64,0.64,0,1,0,-0.72,0A0.64,0.64,0,1,0,-2,0ZM0.72,0A0.64,0.64,0,1,0,2,0A0.64,0.64,0,1,0,0.72,0ZM-0.72,0L0.72,0"]}, "legend": {"title": null}}}}
 ]
},
{
 "width": 370, "height": 370,
 "title": {"text": "(b)", "dx": -9},
 "encoding": {
  "x": {"field": "x", "type": "quantitative", "scale": {"domain": [0, 1], "nice": false}, "axis": {"title": "Cosine similarity", "values": [0,0.1,0.2,0.3,0.4,0.5,0.6,0.7,0.8,0.9], "format": ".1f", "labelPadding": 1, "titlePadding": 6}},
  "y": {"field": "y", "type": "quantitative", "scale": {"domain": [0, 1], "nice": false}, "axis": {"title": "Images Proportion", "values": [0,0.1,0.2,0.3,0.4,0.5,0.6,0.7,0.8,0.9,1], "format": ".1f", "labelPadding": 3, "titlePadding": 6}}
 },
 "layer": [
  {"data": {"name": "bg"}, "transform": [{"filter": "datum.p === 'b'"}],
   "mark": {"type": "line", "color": "#f4e6c6", "strokeWidth": 2.5, "clip": true},
   "encoding": {"detail": {"field": "c", "type": "nominal"}}},
  {"data": {"name": "main"}, "transform": [{"filter": "datum.p === 'b'"}],
   "mark": {"type": "line", "strokeWidth": 2, "clip": true},
   "encoding": {"color": {"field": "m", "type": "nominal", "scale": {"domain": ["Babacan (2012)", "Blurred", "Kupyn (2018) + data", "Nah (2017)", "Ours"], "range": ["#78cd23", "#ff9f4a", "#cf6fe6", "#ff4c4c", "#3ea8ee"]}, "legend": null}}},
  {"data": {"name": "main"}, "transform": [{"filter": "datum.p === 'b' && datum.m === 'Babacan (2012)'"}],
   "mark": {"type": "point", "shape": "M-0.9,0A0.9,0.9,0,1,0,0.9,0A0.9,0.9,0,1,0,-0.9,0Z", "filled": false, "fill": "white", "size": 121, "strokeWidth": 1.5, "opacity": 1, "clip": true},
   "encoding": {"color": {"field": "m", "type": "nominal", "legend": null}}},
  {"data": {"name": "main"}, "transform": [{"filter": "datum.p === 'b' && datum.m === 'Blurred'"}],
   "mark": {"type": "point", "shape": "M-0.76,0L0.76,-0.97L0.76,0.97Z", "filled": false, "fill": "white", "size": 121, "strokeWidth": 1.5, "opacity": 1, "clip": true},
   "encoding": {"color": {"field": "m", "type": "nominal", "legend": null}}},
  {"data": {"name": "main"}, "transform": [{"filter": "datum.p === 'b' && datum.m === 'Kupyn (2018) + data'"}],
   "mark": {"type": "point", "shape": "M0,-1.06L0.6,0L0,1.06L-0.6,0Z", "filled": false, "fill": "white", "size": 121, "strokeWidth": 1.5, "opacity": 1, "clip": true},
   "encoding": {"color": {"field": "m", "type": "nominal", "legend": null}}},
  {"data": {"name": "main"}, "transform": [{"filter": "datum.p === 'b' && datum.m === 'Nah (2017)'"}],
   "mark": {"type": "point", "shape": "M-0.85,-0.85L0.85,-0.85L0.85,0.85L-0.85,0.85Z", "filled": false, "fill": "white", "size": 121, "strokeWidth": 1.5, "opacity": 1, "clip": true},
   "encoding": {"color": {"field": "m", "type": "nominal", "legend": null}}},
  {"data": {"name": "main"}, "transform": [{"filter": "datum.p === 'b' && datum.m === 'Ours'"}],
   "mark": {"type": "point", "shape": "M-0.97,-0.76L0.97,-0.76L0,0.76Z", "filled": false, "fill": "white", "size": 121, "strokeWidth": 1.5, "opacity": 1, "clip": true},
   "encoding": {"color": {"field": "m", "type": "nominal", "legend": null}}},
  {"data": {"name": "main"}, "transform": [{"filter": "false"}],
   "mark": {"type": "point", "filled": false, "strokeWidth": 1.7},
   "encoding": {
    "stroke": {"field": "m", "type": "nominal", "scale": {"domain": ["Ours", "Nah (2017)", "Kupyn (2018) + data", "Blurred", "Babacan (2012)"], "range": ["#3ea8ee", "#ff4c4c", "#cf6fe6", "#ff9f4a", "#78cd23"]}, "legend": {"title": null}},
    "shape": {"field": "m", "type": "nominal", "scale": {"domain": ["Ours", "Nah (2017)", "Kupyn (2018) + data", "Blurred", "Babacan (2012)"], "range": ["M-2.07,-0.5L-0.65,-0.5L-1.36,0.57ZM0.65,-0.5L2.07,-0.5L1.36,0.57ZM-0.98,0L0.98,0", "M-2,-0.64L-0.72,-0.64L-0.72,0.64L-2,0.64ZM0.72,-0.64L2,-0.64L2,0.64L0.72,0.64ZM-0.72,0L0.72,0", "M-1.36,-0.95L-0.78,0L-1.36,0.95L-1.94,0ZM1.36,-0.95L1.94,0L1.36,0.95L0.78,0ZM-0.78,0L0.78,0", "M-2.07,0L-0.65,-0.64L-0.65,0.64ZM0.65,0L2.07,-0.64L2.07,0.64ZM-0.65,0L0.65,0", "M-2,0A0.64,0.64,0,1,0,-0.72,0A0.64,0.64,0,1,0,-2,0ZM0.72,0A0.64,0.64,0,1,0,2,0A0.64,0.64,0,1,0,0.72,0ZM-0.72,0L0.72,0"]}, "legend": {"title": null}}}}
 ]
},
{
 "width": 361, "height": 370,
 "view": {"stroke": null},
 "title": {"text": "(c)", "dx": -3},
 "encoding": {
  "x": {"field": "x", "type": "quantitative", "scale": {"domain": [0, 0.976], "nice": false}, "axis": {"title": "Cosine similarity", "values": [0,0.1,0.2,0.3,0.4,0.5,0.6,0.7,0.8,0.9], "format": ".1f", "labelPadding": 1, "titlePadding": 6, "domain": true, "domainColor": "black", "domainWidth": 1}},
  "y": {"field": "y", "type": "quantitative", "scale": {"domain": [0, 1], "nice": false}, "axis": {"title": "Images Proportion", "values": [0,0.1,0.2,0.3,0.4,0.5,0.6,0.7,0.8,0.9,1], "format": ".1f", "labelPadding": 3, "titlePadding": 6, "domain": true, "domainColor": "black", "domainWidth": 1, "gridDash": {"condition": {"test": "datum.value === 1", "value": [1, 0]}, "value": [4, 3]}, "gridOpacity": {"condition": {"test": "datum.value === 1", "value": 1}, "value": 0.75}}}
 },
 "layer": [
  {"data": {"name": "bg"}, "transform": [{"filter": "datum.p === 'c'"}],
   "mark": {"type": "line", "color": "#f4e6c6", "strokeWidth": 2.5, "clip": true},
   "encoding": {"detail": {"field": "c", "type": "nominal"}}},
  {"data": {"name": "main"}, "transform": [{"filter": "datum.p === 'c'"}],
   "mark": {"type": "line", "strokeWidth": 2, "clip": true},
   "encoding": {"color": {"field": "m", "type": "nominal", "scale": {"domain": ["Babacan (2012)", "Blurred", "Kupyn (2018) + data", "Nah (2017)", "Ours"], "range": ["#78cd23", "#ff9f4a", "#cf6fe6", "#ff4c4c", "#3ea8ee"]}, "legend": null}}},
  {"data": {"name": "main"}, "transform": [{"filter": "datum.p === 'c' && datum.m === 'Babacan (2012)'"}],
   "mark": {"type": "point", "shape": "M-0.9,0A0.9,0.9,0,1,0,0.9,0A0.9,0.9,0,1,0,-0.9,0Z", "filled": false, "fill": "white", "size": 121, "strokeWidth": 1.5, "opacity": 1, "clip": true},
   "encoding": {"color": {"field": "m", "type": "nominal", "legend": null}}},
  {"data": {"name": "main"}, "transform": [{"filter": "datum.p === 'c' && datum.m === 'Blurred'"}],
   "mark": {"type": "point", "shape": "M-0.76,0L0.76,-0.97L0.76,0.97Z", "filled": false, "fill": "white", "size": 121, "strokeWidth": 1.5, "opacity": 1, "clip": true},
   "encoding": {"color": {"field": "m", "type": "nominal", "legend": null}}},
  {"data": {"name": "main"}, "transform": [{"filter": "datum.p === 'c' && datum.m === 'Kupyn (2018) + data'"}],
   "mark": {"type": "point", "shape": "M0,-1.06L0.6,0L0,1.06L-0.6,0Z", "filled": false, "fill": "white", "size": 121, "strokeWidth": 1.5, "opacity": 1, "clip": true},
   "encoding": {"color": {"field": "m", "type": "nominal", "legend": null}}},
  {"data": {"name": "main"}, "transform": [{"filter": "datum.p === 'c' && datum.m === 'Nah (2017)'"}],
   "mark": {"type": "point", "shape": "M-0.85,-0.85L0.85,-0.85L0.85,0.85L-0.85,0.85Z", "filled": false, "fill": "white", "size": 121, "strokeWidth": 1.5, "opacity": 1, "clip": true},
   "encoding": {"color": {"field": "m", "type": "nominal", "legend": null}}},
  {"data": {"name": "main"}, "transform": [{"filter": "datum.p === 'c' && datum.m === 'Ours'"}],
   "mark": {"type": "point", "shape": "M-0.97,-0.76L0.97,-0.76L0,0.76Z", "filled": false, "fill": "white", "size": 121, "strokeWidth": 1.5, "opacity": 1, "clip": true},
   "encoding": {"color": {"field": "m", "type": "nominal", "legend": null}}},
  {"data": {"name": "main"}, "transform": [{"filter": "false"}],
   "mark": {"type": "point", "filled": false, "strokeWidth": 1.7},
   "encoding": {
    "stroke": {"field": "m", "type": "nominal", "scale": {"domain": ["Ours", "Nah (2017)", "Kupyn (2018) + data", "Blurred", "Babacan (2012)"], "range": ["#3ea8ee", "#ff4c4c", "#cf6fe6", "#ff9f4a", "#78cd23"]}, "legend": {"title": null}},
    "shape": {"field": "m", "type": "nominal", "scale": {"domain": ["Ours", "Nah (2017)", "Kupyn (2018) + data", "Blurred", "Babacan (2012)"], "range": ["M-2.07,-0.5L-0.65,-0.5L-1.36,0.57ZM0.65,-0.5L2.07,-0.5L1.36,0.57ZM-0.98,0L0.98,0", "M-2,-0.64L-0.72,-0.64L-0.72,0.64L-2,0.64ZM0.72,-0.64L2,-0.64L2,0.64L0.72,0.64ZM-0.72,0L0.72,0", "M-1.36,-0.95L-0.78,0L-1.36,0.95L-1.94,0ZM1.36,-0.95L1.94,0L1.36,0.95L0.78,0ZM-0.78,0L0.78,0", "M-2.07,0L-0.65,-0.64L-0.65,0.64ZM0.65,0L2.07,-0.64L2.07,0.64ZM-0.65,0L0.65,0", "M-2,0A0.64,0.64,0,1,0,-0.72,0A0.64,0.64,0,1,0,-2,0ZM0.72,0A0.64,0.64,0,1,0,2,0A0.64,0.64,0,1,0,0.72,0ZM-0.72,0L0.72,0"]}, "legend": {"title": null}}}}
 ]
}
]
}
